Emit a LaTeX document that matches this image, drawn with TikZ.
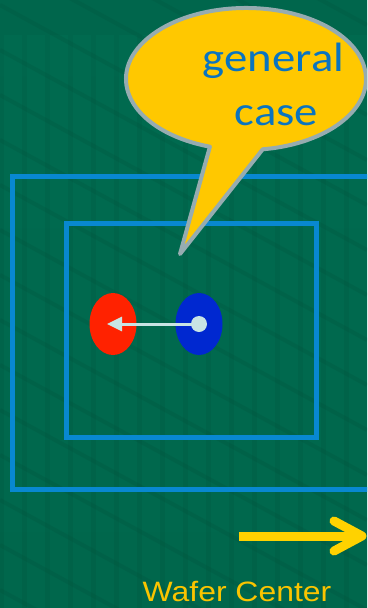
\documentclass[tikz,border=0pt]{standalone}
\usepackage{graphicx}
\usepackage{fontspec}
\newfontfamily\carlito{Carlito}
\newfontfamily\libsans{Liberation Sans}
\usetikzlibrary{arrows.meta,shapes.geometric}
\definecolor{bgtop}{RGB}{0,102,76}
\definecolor{bgmid}{RGB}{0,117,87}
\definecolor{bgbot}{RGB}{0,98,72}
\definecolor{tilelight}{RGB}{0,135,102}
\definecolor{tiledark}{RGB}{0,80,58}
\definecolor{frameblue}{RGB}{8,136,208}
\definecolor{balloonfill}{RGB}{255,200,0}
\definecolor{balloonedge}{RGB}{150,172,176}
\definecolor{textblue}{RGB}{10,116,192}
\definecolor{waferyellow}{RGB}{250,196,0}
\definecolor{arrowyellow}{RGB}{255,210,0}
\definecolor{spotred}{RGB}{255,34,0}
\definecolor{spotblue}{RGB}{0,40,208}
\definecolor{pale}{RGB}{200,228,228}
\begin{document}
\begin{tikzpicture}[x=1pt,y=-1pt,
  frame/.style={draw=frameblue,line width=5pt},
  balloon/.style={fill=balloonfill,draw=balloonedge,line width=4pt,line join=round},
  spot/.style={ellipse,minimum width=47pt,minimum height=62pt,inner sep=0pt},
  bubbletext/.style={anchor=base,text=textblue,inner sep=0pt,font=\carlito\fontsize{41}{50}\selectfont},
  yarrow/.style={draw=arrowyellow,line width=9pt,line join=round},
]
\useasboundingbox (0,0) rectangle (367,608);
\clip (0,0) rectangle (367,608);
% background
\shade[top color=bgtop,middle color=bgmid,bottom color=bgbot] (0,0) rectangle (367,608);
\begin{scope}[tilelight,opacity=0.15]
  \foreach \x in {4,27,...,367} \fill (\x,35) rectangle (\x+18,608);
\end{scope}
\begin{scope}[tiledark,opacity=0.22,line width=4pt]
  \foreach \k in {-400,-355,...,700} \draw (0,\k) -- (367,\k+200);
\end{scope}
% frames
\draw[frame] (12.5,176) rectangle (390,489);
\draw[frame] (66,223) rectangle (316,437);
% speech balloon
\filldraw[balloon] (262.7,149.3) coordinate (bB)
  arc[start angle=82,end angle=-252.5,x radius=120,y radius=71] coordinate (bA)
  -- (180,254) coordinate (btip) -- cycle;
\node[bubbletext] (t1) at (273.5,71) {\scalebox{1.14}[1]{general}};
\node[bubbletext] (t2) at (276.5,125) {\scalebox{1.14}[1]{case}};
% spots
\node[spot,fill=spotred] (red) at (113,324) {};
\node[spot,fill=spotblue] (blue) at (199,324) {};
\node[circle,fill=pale,minimum size=16pt,inner sep=0pt] (dot) at (blue.center) {};
\coordinate (tipr) at (107,324);
\draw[pale,line width=3pt,-{Triangle[length=15pt,width=14pt]}] (dot.center) -- (tipr);
% wafer center arrow
\coordinate (ya) at (239,536);
\coordinate (yb) at (362,536);
\coordinate (yu) at (334,521);
\coordinate (yd) at (334,551);
\draw[yarrow] (ya) -- (yb);
\draw[yarrow,line cap=round] (yu) -- (yb) -- (yd);
\node[anchor=base,text=waferyellow,inner sep=0pt,font=\libsans\fontsize{28}{34}\selectfont] (wc) at (237,601) {\scalebox{1.14}[1]{Wafer Center}};
\end{tikzpicture}
\end{document}
